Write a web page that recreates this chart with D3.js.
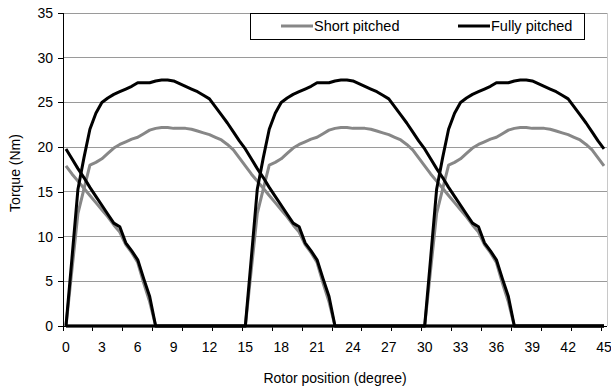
<!DOCTYPE html>
<html>
<head>
<meta charset="utf-8">
<script src="https://cdn.jsdelivr.net/npm/d3@7"></script>
<style>
  body { margin: 0; background: #fff; }
  svg { display: block; font-family: "Liberation Sans", Arial, sans-serif; }
</style>
</head>
<body>
<svg id="chart" width="611" height="388"></svg>
<script>
// rotor position categories, 0.5 degree steps
const angles = d3.range(0, 45.5, 0.5);
const xTickLabels = [0, 3, 6, 9, 12, 15, 18, 21, 24, 27, 30, 33, 36, 39, 42, 45];
const yTicks = [0, 5, 10, 15, 20, 25, 30, 35];

// torque of one phase over its conduction interval (0 .. 22.5 deg, 0.5 deg steps)
const shortProfile = [0, 6.3, 12.6, 15.3, 18.0, 18.3, 18.7, 19.3, 19.9, 20.3, 20.6, 20.9, 21.1, 21.5, 21.9, 22.1,
  22.2, 22.2, 22.1, 22.1, 22.1, 22.0, 21.8, 21.6, 21.4, 21.1, 20.8, 20.3, 19.7, 18.8, 17.9, 17.0, 16.2, 15.4,
  14.6, 13.8, 13.0, 12.2, 11.3, 10.5, 9.1, 8.2, 7.1, 4.8, 2.7, 0];
const fullProfile = [0, 7.6, 15.3, 18.8, 22.0, 23.8, 25.0, 25.5, 25.9, 26.2, 26.5, 26.8, 27.2, 27.2, 27.2, 27.4,
  27.5, 27.5, 27.4, 27.1, 26.8, 26.5, 26.2, 25.8, 25.4, 24.5, 23.6, 22.7, 21.7, 20.7, 19.8, 18.7, 17.6, 16.6,
  15.5, 14.5, 13.5, 12.5, 11.5, 11.1, 9.3, 8.4, 7.4, 5.3, 3.3, 0];
// phase turn-on angles (period 45 deg)
const phaseStarts = [0, 15, 30];

function phaseSeries(profile, start) {
  return angles.map(a => {
    const d = (a - start + 45) % 45;
    const v = d <= 22.5 ? profile[Math.round(d * 2)] : 0;
    return { a: a, v: v };
  });
}

const svg = d3.select('#chart');
const plotL = 63, plotR = 607, plotT = 13, plotB = 326;
const fs = 14;

const x = d3.scaleLinear().domain([-0.25, 45.25]).range([plotL, plotR]);
const y = d3.scaleLinear().domain([0, 35]).range([plotB, plotT]);

// gridlines
svg.append('g')
  .selectAll('line')
  .data(yTicks.slice(1))
  .enter().append('line')
  .attr('x1', plotL).attr('x2', plotR)
  .attr('y1', d => y(d)).attr('y2', d => y(d))
  .attr('stroke', '#9a9a9a').attr('stroke-width', 1)
  .attr('shape-rendering', 'crispEdges');

// plot area right edge
svg.append('line')
  .attr('x1', plotR).attr('x2', plotR).attr('y1', plotT).attr('y2', plotB)
  .attr('stroke', '#c8c8c8').attr('shape-rendering', 'crispEdges');

// y axis
const yAxis = d3.axisLeft(y).tickValues(yTicks).tickSize(5).tickPadding(5);
const gy = svg.append('g').attr('transform', `translate(${plotL},0)`).call(yAxis);
gy.select('.domain').attr('stroke', '#000');
gy.selectAll('line').attr('stroke', '#000');
gy.selectAll('text').attr('font-size', fs).attr('fill', '#000')
  .attr('font-family', '"Liberation Sans", Arial, sans-serif');
gy.attr('shape-rendering', 'crispEdges');

// x axis: ticks on category boundaries every 2.5 deg, labels every 3 deg
const boundaries = d3.range(0, 19).map(k => -0.25 + 2.5 * k);
const gx = svg.append('g');
gx.append('line')
  .attr('x1', plotL).attr('x2', plotR).attr('y1', plotB).attr('y2', plotB)
  .attr('stroke', '#000').attr('shape-rendering', 'crispEdges');
gx.selectAll('line.tick')
  .data(boundaries)
  .enter().append('line')
  .attr('class', 'tick')
  .attr('x1', d => x(d)).attr('x2', d => x(d))
  .attr('y1', plotB).attr('y2', plotB + 5)
  .attr('stroke', '#000').attr('shape-rendering', 'crispEdges');
gx.selectAll('text')
  .data(xTickLabels)
  .enter().append('text')
  .attr('x', d => x(d))
  .attr('y', 352)
  .attr('text-anchor', 'middle')
  .attr('font-size', fs)
  .text(d => d);

// axis titles
svg.append('text')
  .attr('x', 335).attr('y', 383)
  .attr('text-anchor', 'middle')
  .attr('font-size', fs)
  .text('Rotor position (degree)');
svg.append('text')
  .attr('transform', 'translate(20,173) rotate(-90)')
  .attr('text-anchor', 'middle')
  .attr('font-size', fs)
  .text('Torque (Nm)');

// lines
const line = d3.line().x(d => x(d.a)).y(d => y(d.v));
const seriesDefs = [
  { profile: shortProfile, color: '#878787' },
  { profile: fullProfile, color: '#000000' }
];
seriesDefs.forEach(s => {
  phaseStarts.forEach(p => {
    svg.append('path')
      .datum(phaseSeries(s.profile, p))
      .attr('d', line)
      .attr('fill', 'none')
      .attr('stroke', s.color)
      .attr('stroke-width', 3)
      .attr('stroke-linejoin', 'round');
  });
});

// legend
const legend = svg.append('g');
legend.append('rect')
  .attr('x', 250.5).attr('y', 13.5).attr('width', 334).attr('height', 26)
  .attr('fill', '#fff').attr('stroke', '#000').attr('stroke-width', 1);
const legendItems = [
  { name: 'Short pitched', color: '#878787', x: 281 },
  { name: 'Fully pitched', color: '#000000', x: 458 }
];
legendItems.forEach(it => {
  legend.append('line')
    .attr('x1', it.x).attr('x2', it.x + 32).attr('y1', 26).attr('y2', 26)
    .attr('stroke', it.color).attr('stroke-width', 3);
  legend.append('text')
    .attr('x', it.x + 33).attr('y', 31)
    .attr('font-size', 14.5)
    .text(it.name);
});
</script>
</body>
</html>
